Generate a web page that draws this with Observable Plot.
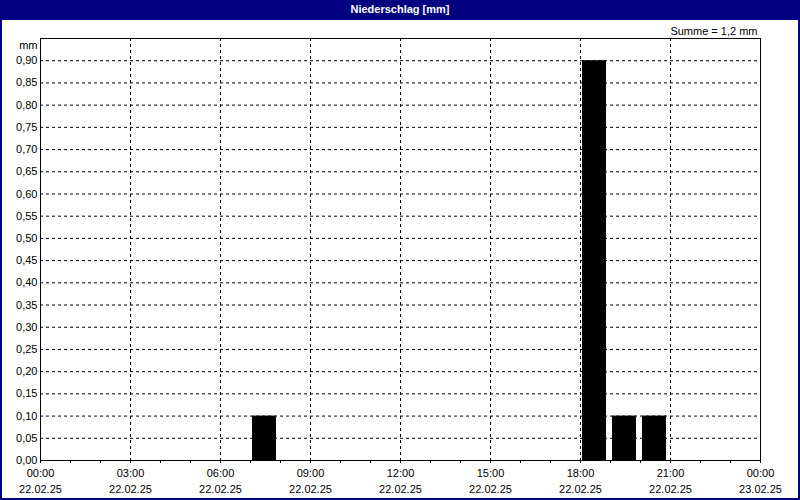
<!DOCTYPE html>
<html>
<head>
<meta charset="utf-8">
<script src="https://cdn.jsdelivr.net/npm/d3@7"></script>
<script src="https://cdn.jsdelivr.net/npm/@observablehq/plot@0.6"></script>
<style>
  html, body { margin: 0; padding: 0; background: #fff; }
  #wrap { position: relative; width: 800px; height: 500px; box-sizing: border-box;
          border: 2px solid #000080; border-top: none; background: #fff; }
  #title { height: 20px; margin: 0 -2px; background: #000080; color: #fff;
           font: bold 11px Tahoma, "Liberation Sans", Arial, sans-serif;
           text-align: center; line-height: 18px; }
  #chart svg { display: block; }
</style>
</head>
<body>
<div id="wrap">
  <div id="title">Niederschlag [mm]</div>
  <div id="chart"></div>
</div>
<script>
// Data: hourly precipitation on 22.02.25 (start hour of each bar, value in mm)
const barStartHours = [7, 18, 19, 20];
const barValues = [0.10, 0.90, 0.10, 0.10];

// Tick values
const yTicks = [0.00, 0.05, 0.10, 0.15, 0.20, 0.25, 0.30, 0.35, 0.40, 0.45,
                0.50, 0.55, 0.60, 0.65, 0.70, 0.75, 0.80, 0.85, 0.90];
const majorTickHours = [0, 3, 6, 9, 12, 15, 18, 21, 24];
const minorTickHours = [0,1,2,3,4,5,6,7,8,9,10,11,12,13,14,15,16,17,18,19,20,21,22,23,24];
const yUnit = "mm";

const at = h => new Date(Date.UTC(2025, 1, 22, h));
const data = barStartHours.map((h, i) => ({start: at(h), end: at(h + 1), value: barValues[i]}));
const majorDates = majorTickHours.map(at);
const minorDates = minorTickHours.map(at);
const innerMajor = majorDates.slice(1, -1);

const total = d3.sum(barValues);
const sumLabel = "Summe = " + total.toFixed(1).replace(".", ",") + " " + yUnit;
const fmtY = d => d.toFixed(2).replace(".", ",");
const fmtTime = d3.utcFormat("%H:%M");
const fmtDate = d3.utcFormat("%d.%m.%y");

const font = 'Tahoma, "Liberation Sans", Arial, sans-serif';

const chart = Plot.plot({
  width: 796,
  height: 478,
  marginLeft: 38,
  marginRight: 38,
  marginTop: 18,
  marginBottom: 38,
  style: {fontFamily: font, fontSize: "11px", color: "#000", background: "#fff"},
  x: {type: "utc", domain: [at(0), at(24)]},
  y: {domain: [0, 0.95]},
  marks: [
    Plot.gridY(yTicks.filter(d => d > 0), {stroke: "#000", strokeOpacity: 1, strokeDasharray: "3,3"}),
    Plot.gridX(innerMajor, {stroke: "#000", strokeOpacity: 1, strokeDasharray: "3,3"}),
    Plot.rectY(data, {x1: "start", x2: "end", y: "value", fill: "#000", insetLeft: 2, insetRight: 4}),
    Plot.frame({stroke: "#000"}),
    Plot.axisY({ticks: yTicks, tickSize: 0, tickPadding: 3, tickFormat: fmtY, label: null, fontSize: 11}),
    Plot.axisX({ticks: minorDates, tickSize: 3, tickFormat: () => "", label: null}),
    Plot.axisX({ticks: majorDates, tickSize: 0, tickPadding: 9, tickFormat: fmtTime, label: null, fontSize: 11}),
    Plot.axisX({ticks: majorDates, tickSize: 0, tickPadding: 25, tickFormat: fmtDate, label: null, fontSize: 11}),
    Plot.text([yUnit], {frameAnchor: "top-left", lineAnchor: "middle", dx: -3, dy: 7, textAnchor: "end", fontSize: 11}),
    Plot.text([sumLabel], {frameAnchor: "top-right", lineAnchor: "middle", dx: -3, dy: -7, textAnchor: "end", fontSize: 11})
  ]
});
document.getElementById("chart").appendChild(chart);
</script>
</body>
</html>
